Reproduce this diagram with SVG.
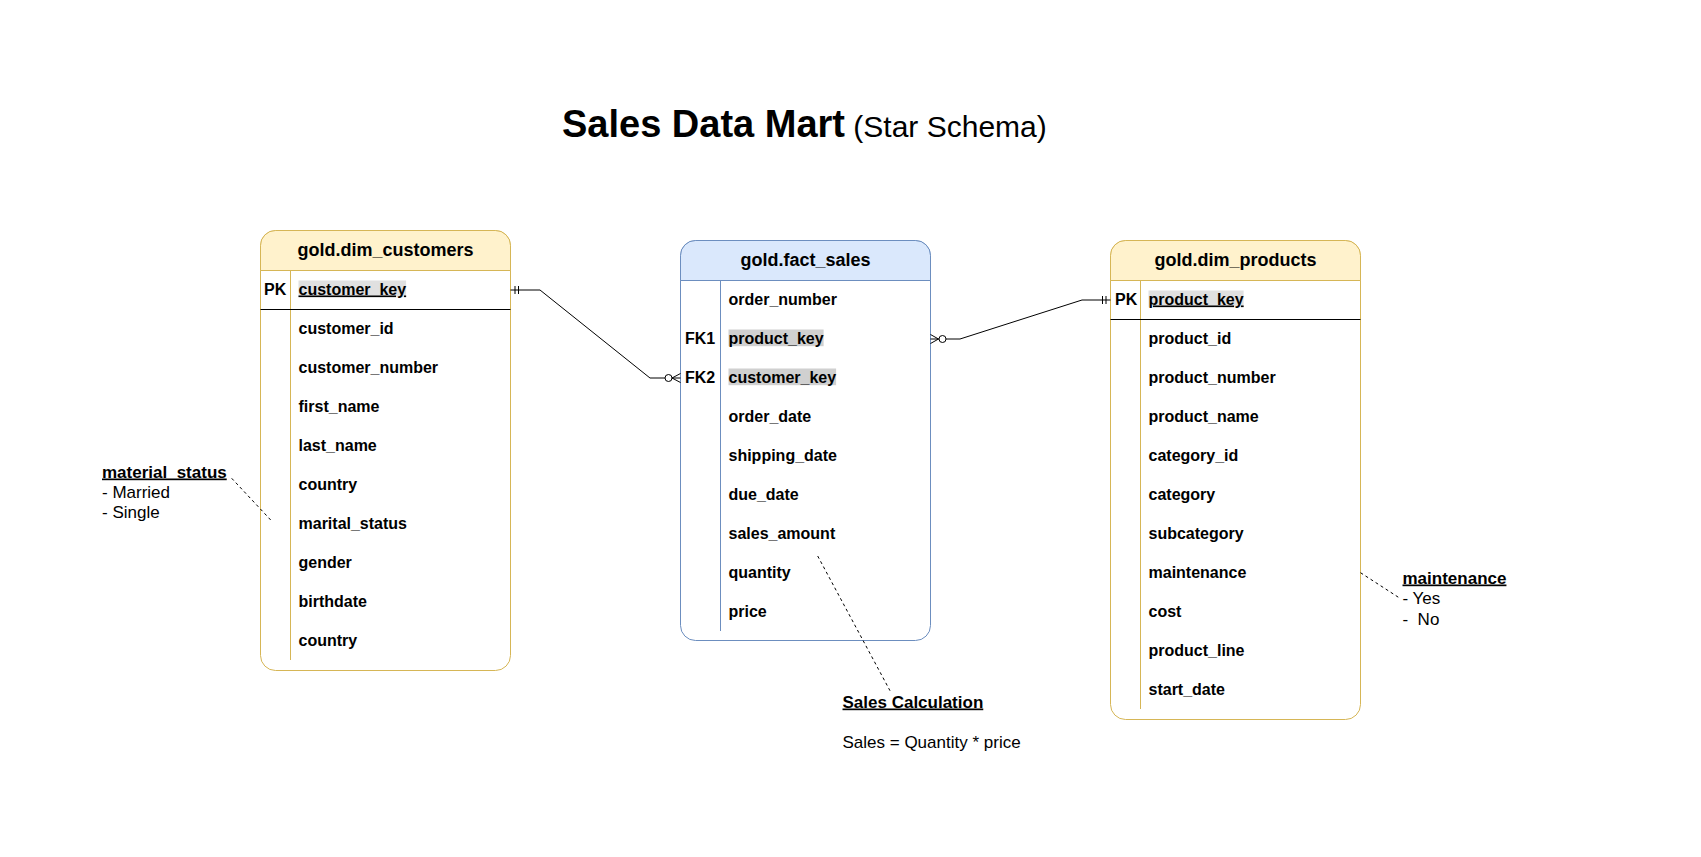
<svg xmlns="http://www.w3.org/2000/svg" width="1701" height="857" viewBox="0 0 1701 857">
<style>
text{font-family:"Liberation Sans",Arial,Helvetica,sans-serif;fill:#000}
.f{font-size:16px;font-weight:bold}
.h{font-size:18px;font-weight:bold;text-anchor:middle}
.n{font-size:17px}
.nb{font-size:17px;font-weight:bold;text-decoration:underline}
.u{text-decoration:underline}
.ybox{fill:#fff;stroke:#d6b656;stroke-width:1}
.yhead{fill:#fff2cc;stroke:#d6b656;stroke-width:1}
.bbox{fill:#fff;stroke:#6c8ebf;stroke-width:1}
.bhead{fill:#dae8fc;stroke:#6c8ebf;stroke-width:1}
.ydiv{stroke:#d6b656;stroke-width:1;fill:none}
.bdiv{stroke:#6c8ebf;stroke-width:1;fill:none}
.sep{stroke:#000;stroke-width:1}
.hl1{fill:#e0e0e0}
.hl2{fill:#d0d0d0}
.conn{fill:none;stroke:#000;stroke-width:1}
.dash{fill:none;stroke:#000;stroke-width:1;stroke-dasharray:3 3}
</style>
<rect width="1701" height="857" fill="#fff"/>

<g id="title">
<text x="562" y="137"><tspan style="font-size:38px;font-weight:bold">Sales Data Mart</tspan><tspan style="font-size:30px"> (Star Schema)</tspan></text>
</g>

<g id="dim_customers">
<rect class="ybox" x="260.5" y="230.5" width="250" height="440" rx="15" ry="15"/>
<path class="yhead" d="M260.5,270.5 V245.5 A15,15 0 0 1 275.5,230.5 H495.5 A15,15 0 0 1 510.5,245.5 V270.5 Z"/>
<line class="ydiv" x1="290.5" y1="270.5" x2="290.5" y2="660"/>
<line class="sep" x1="260.5" y1="309.5" x2="510.5" y2="309.5"/>
<text class="h" x="385.5" y="255.5">gold.dim_customers</text>
<rect class="hl1" x="298.5" y="280.5" width="107.6" height="16.7"/>
<text class="f" x="264" y="294.5">PK</text>
<text class="f u" x="298.5" y="294.5">customer_key</text>
<text class="f" x="298.5" y="333.5">customer_id</text>
<text class="f" x="298.5" y="372.5">customer_number</text>
<text class="f" x="298.5" y="411.5">first_name</text>
<text class="f" x="298.5" y="450.5">last_name</text>
<text class="f" x="298.5" y="489.5">country</text>
<text class="f" x="298.5" y="528.5">marital_status</text>
<text class="f" x="298.5" y="567.5">gender</text>
<text class="f" x="298.5" y="606.5">birthdate</text>
<text class="f" x="298.5" y="645.5">country</text>
</g>

<g id="fact_sales">
<rect class="bbox" x="680.5" y="240.5" width="250" height="400" rx="15" ry="15"/>
<path class="bhead" d="M680.5,280.5 V255.5 A15,15 0 0 1 695.5,240.5 H915.5 A15,15 0 0 1 930.5,255.5 V280.5 Z"/>
<line class="bdiv" x1="720.5" y1="280.5" x2="720.5" y2="631"/>
<text class="h" x="805.5" y="265.5">gold.fact_sales</text>
<rect class="hl2" x="728.5" y="329.5" width="95.1" height="16.7"/>
<rect class="hl2" x="728.5" y="368.5" width="107.6" height="16.7"/>
<text class="f" x="728.5" y="304.5">order_number</text>
<text class="f" x="685" y="343.5">FK1</text>
<text class="f" x="728.5" y="343.5">product_key</text>
<text class="f" x="685" y="382.5">FK2</text>
<text class="f" x="728.5" y="382.5">customer_key</text>
<text class="f" x="728.5" y="421.5">order_date</text>
<text class="f" x="728.5" y="460.5">shipping_date</text>
<text class="f" x="728.5" y="499.5">due_date</text>
<text class="f" x="728.5" y="538.5">sales_amount</text>
<text class="f" x="728.5" y="577.5">quantity</text>
<text class="f" x="728.5" y="616.5">price</text>
</g>

<g id="dim_products">
<rect class="ybox" x="1110.5" y="240.5" width="250" height="479" rx="15" ry="15"/>
<path class="yhead" d="M1110.5,280.5 V255.5 A15,15 0 0 1 1125.5,240.5 H1345.5 A15,15 0 0 1 1360.5,255.5 V280.5 Z"/>
<line class="ydiv" x1="1140.5" y1="280.5" x2="1140.5" y2="709"/>
<line class="sep" x1="1110.5" y1="319.5" x2="1360.5" y2="319.5"/>
<text class="h" x="1235.5" y="265.5">gold.dim_products</text>
<rect class="hl1" x="1148.5" y="290.5" width="95.1" height="16.7"/>
<text class="f" x="1115" y="304.5">PK</text>
<text class="f u" x="1148.5" y="304.5">product_key</text>
<text class="f" x="1148.5" y="343.5">product_id</text>
<text class="f" x="1148.5" y="382.5">product_number</text>
<text class="f" x="1148.5" y="421.5">product_name</text>
<text class="f" x="1148.5" y="460.5">category_id</text>
<text class="f" x="1148.5" y="499.5">category</text>
<text class="f" x="1148.5" y="538.5">subcategory</text>
<text class="f" x="1148.5" y="577.5">maintenance</text>
<text class="f" x="1148.5" y="616.5">cost</text>
<text class="f" x="1148.5" y="655.5">product_line</text>
<text class="f" x="1148.5" y="694.5">start_date</text>
</g>

<g id="note_marital">
<text class="nb" x="102" y="477.5">material_status</text>
<text class="n" x="102" y="497.5">- Married</text>
<text class="n" x="102" y="518">- Single</text>
</g>

<g id="note_maintenance">
<text class="nb" x="1402.5" y="583.5">maintenance</text>
<text class="n" x="1402.5" y="604">- Yes</text>
<text class="n" x="1402.5" y="624.5" xml:space="preserve">-  No</text>
</g>

<g id="note_sales">
<text class="nb" x="842.5" y="707.5">Sales Calculation</text>
<text class="n" x="842.5" y="747.5">Sales = Quantity * price</text>
</g>

<g id="connectors">
<path class="conn" d="M510.5,290 H540 L650,378 H680.5"/>
<line class="conn" x1="515" y1="286" x2="515" y2="294"/>
<line class="conn" x1="518.5" y1="286" x2="518.5" y2="294"/>
<circle class="conn" cx="668.5" cy="378" r="3.5" style="fill:#fff"/>
<path class="conn" d="M672,378 L680.5,373.5 M672,378 L680.5,382.5"/>

<path class="conn" d="M930.5,339 H960 L1082,300 H1110.5"/>
<path class="conn" d="M938.5,339 L930.5,334.5 M938.5,339 L930.5,343.5"/>
<circle class="conn" cx="942.5" cy="339" r="3.5" style="fill:#fff"/>
<line class="conn" x1="1102.5" y1="296" x2="1102.5" y2="304"/>
<line class="conn" x1="1106" y1="296" x2="1106" y2="304"/>

<line class="dash" x1="231.7" y1="478.3" x2="270.7" y2="520"/>
<line class="dash" x1="1360.5" y1="572.7" x2="1400" y2="598.3"/>
<line class="dash" x1="817.7" y1="556" x2="890" y2="690.7"/>
</g>
</svg>
